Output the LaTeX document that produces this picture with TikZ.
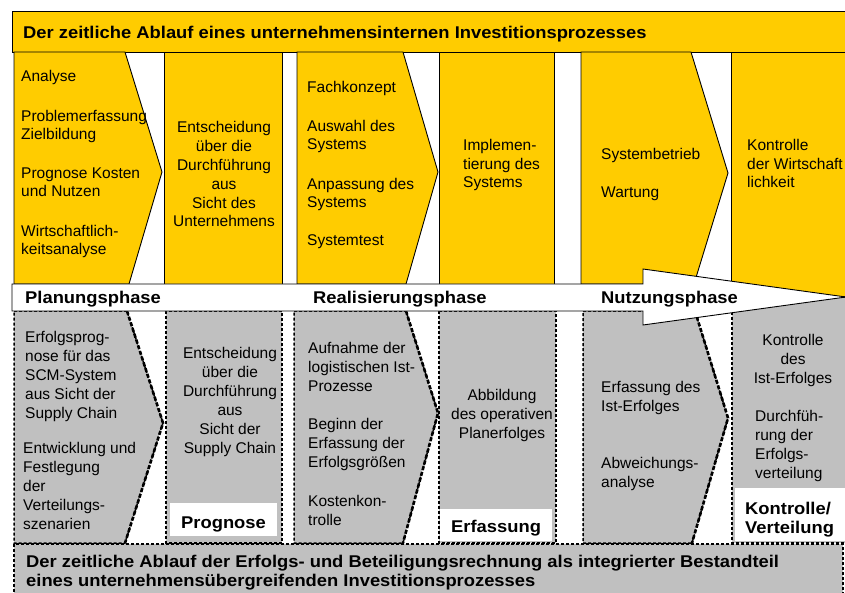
\documentclass[tikz,border=0pt]{standalone}
\usepackage{fontspec}
\setmainfont{Liberation Sans}
\newfontfamily\headfont[FakeStretch=1.08]{Liberation Sans}
\usepackage{xcolor}
\definecolor{phaseyellow}{RGB}{255,204,0}
\definecolor{phasegray}{RGB}{192,192,192}

\begin{document}
\begin{tikzpicture}[x=1pt,y=-1pt,
    every node/.style={font=\fontsize{15.5}{18.9}\selectfont, inner sep=0pt},
    txt/.style={anchor=base west, align=left},
    ctxt/.style={anchor=base, align=center},
    head/.style={anchor=base west, align=left, font=\headfont\bfseries\fontsize{17}{19}\selectfont},
    yellowbox/.style={fill=phaseyellow, draw=black, line width=0.9pt},
    graybox/.style={fill=phasegray, draw=black, line width=1.5pt, dash pattern=on 3pt off 2pt},
    heavydash/.style={draw=black, line width=2.6pt, dash pattern=on 4pt off 2pt}]
    \clip (0,0) rectangle (845,593);

    % Title bar
    \draw[yellowbox] (12,11) rectangle (850,52);
    \node[head] (title) at (23,39) {Der zeitliche Ablauf eines unternehmensinternen Investitionsprozesses};

    % Upper row: internal process (nodes placed by the baseline of their last line)
    \draw[yellowbox] (14,52) -- (125,52) -- (162,172) -- (129,284) -- (14,284) -- cycle;
    \draw[yellowbox] (164,52) rectangle (282,284);
    \draw[yellowbox] (297,52) -- (403,52) -- (438,172) -- (406,284) -- (297,284) -- cycle;
    \draw[yellowbox] (439,52) rectangle (554,284);
    \draw[yellowbox] (581,52) -- (691,52) -- (728,173) -- (694,284) -- (581,284) -- cycle;
    \draw[yellowbox] (731,52) rectangle (850,311);

    \node[txt] (analyse) at (21,82) {Analyse};
    \node[txt] (problem) at (21,140) {Problemerfassung\\Zielbildung};
    \node[txt] (kosten) at (21,197) {Prognose Kosten\\und Nutzen};
    \node[txt] (wirtsch) at (21,255) {Wirtschaftlich-\\keitsanalyse};
    \node[ctxt] (entsch) at (224,227) {Entscheidung\\über die\\Durchführung\\aus\\Sicht des\\Unternehmens};
    \node[txt] (fachk) at (307,93) {Fachkonzept};
    \node[txt] (auswahl) at (307,150) {Auswahl des\\Systems};
    \node[txt] (anpass) at (307,208) {Anpassung des\\Systems};
    \node[txt] (systest) at (307,246) {Systemtest};
    \node[txt] (implem) at (463,188) {Implemen-\\tierung des\\Systems};
    \node[txt] (betrieb) at (601,160) {Systembetrieb};
    \node[txt] (wartung) at (601,198) {Wartung};
    \node[txt] (kontr) at (747,188) {Kontrolle\\der Wirtschaft\\lichkeit};

    % Lower row: success and participation accounting
    \draw[graybox] (14,311) -- (127,311) -- (163,423) -- (125,543) -- (14,543) -- cycle;
    \draw[graybox] (166,311) rectangle (282,543);
    \draw[graybox] (294,311) -- (406,311) -- (438,413) -- (403,543) -- (294,543) -- cycle;
    \draw[graybox] (439,311) rectangle (556,543);
    \draw[graybox] (583,311) -- (695,311) -- (728,418) -- (692,543) -- (583,543) -- cycle;
    \draw[graybox] (732,297) rectangle (850,543);
    \draw[heavydash] (127,311) -- (163,423) -- (125,543);
    \draw[heavydash] (406,311) -- (438,413) -- (403,543);
    \draw[heavydash] (695,311) -- (728,418) -- (692,543);

    \node[txt] (progn) at (25,418) {Erfolgsprog-\\nose für das\\SCM-System\\aus Sicht der\\Supply Chain};
    \node[txt] (szen) at (23,529) {Entwicklung und\\Festlegung\\der\\Verteilungs-\\szenarien};
    \node[ctxt] (entschsc) at (230,453) {Entscheidung\\über die\\Durchführung\\aus\\Sicht der\\Supply Chain};
    \node[txt] (aufn) at (308,391) {Aufnahme der\\logistischen Ist-\\Prozesse};
    \node[txt] (beginn) at (308,467) {Beginn der\\Erfassung der\\Erfolgsgrößen};
    \node[txt] (kostk) at (308,525) {Kostenkon-\\trolle};
    \node[ctxt] (abbild) at (502,438) {Abbildung\\des operativen\\Planerfolges};
    \node[txt] (isterf) at (601,411) {Erfassung des\\Ist-Erfolges};
    \node[txt] (abw) at (601,487) {Abweichungs-\\analyse};
    \node[ctxt] (kontrist) at (793,383) {Kontrolle\\des\\Ist-Erfolges};
    \node[txt] (durchf) at (755,478) {Durchfüh-\\rung der\\Erfolgs-\\verteilung};

    % White labels of the lower row
    \fill[white] (170,503) rectangle (277,536);
    \node[head] (lprog) at (181,528) {Prognose};
    \fill[white] (440,509) rectangle (552,541);
    \node[head] (lerf) at (451,532) {Erfassung};
    \fill[white] (735,488) rectangle (850,541);
    \node[head] (lkontr) at (745,533) {Kontrolle/\\Verteilung};

    % Bottom bar
    \draw[graybox] (14,544) rectangle (843,600);
    \node[head] (footer) at (26,586) {Der zeitliche Ablauf der Erfolgs- und Beteiligungsrechnung als integrierter Bestandteil\\eines unternehmensübergreifenden Investitionsprozesses};

    % Phase arrow
    \draw[fill=white, line width=0.9pt] (12,284) -- (643,284) -- (643,269) -- (846,297)
        -- (643,325) -- (643,311) -- (12,311) -- cycle;
    \node[head] (plan) at (25,303) {Planungsphase};
    \node[head] (real) at (313,303) {Realisierungsphase};
    \node[head] (nutz) at (601,303) {Nutzungsphase};
\end{tikzpicture}
\end{document}
